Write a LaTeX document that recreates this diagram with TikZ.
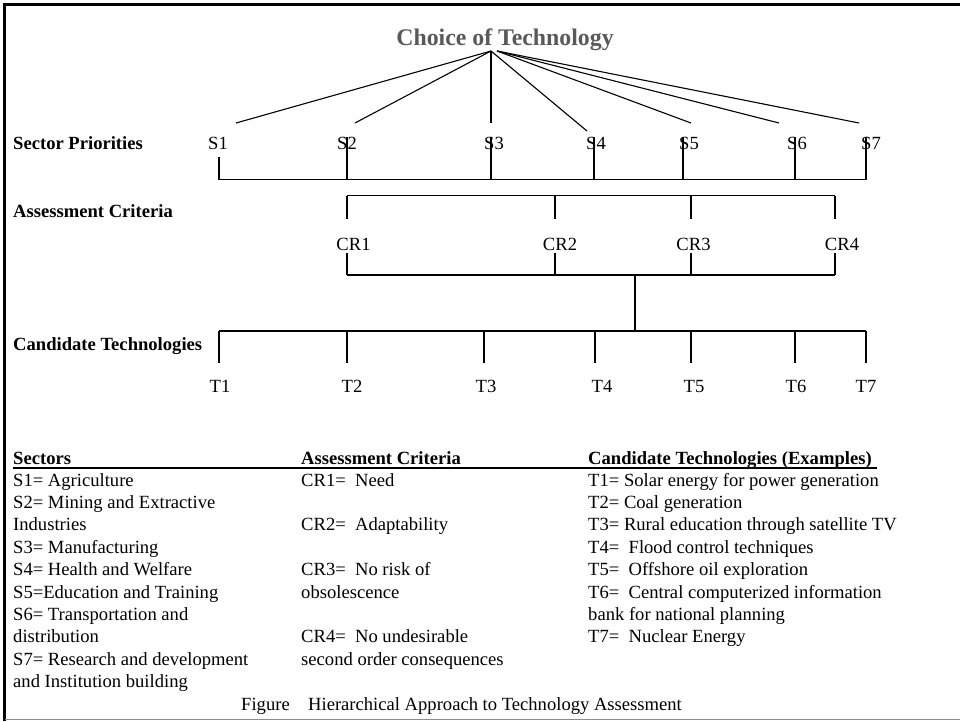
\documentclass[tikz,border=0pt]{standalone}
\usepackage{fontspec}
\setmainfont{Liberation Serif}
\definecolor{titlegray}{HTML}{595959}
\definecolor{framegray}{HTML}{8C8C8C}
\begin{document}
\begin{tikzpicture}[x=1pt,y=-1pt,
  lbl/.style={inner sep=0pt, font=\fontsize{18.6}{22.4}\selectfont, anchor=base},
  rowlbl/.style={inner sep=0pt, font=\fontsize{18.6}{22.4}\selectfont\bfseries, anchor=base west},
  tbl/.style={inner sep=0pt, font=\fontsize{18.6}{22.4}\selectfont, anchor=base west},
  wire/.style={line width=1.1pt, black},
]
\useasboundingbox (0,0) rectangle (960,721);

% frame
\draw[line width=2.7pt] (4.7,721) -- (4.7,4.7) -- (960,4.7);
\draw[line width=1.4pt, framegray] (4.7,719.6) -- (960,719.6);

% title and apex
\node[inner sep=0pt, anchor=base, text=titlegray,
      font=\fontsize{23.8}{28}\selectfont\bfseries] (title) at (505,45) {Choice of Technology};
\coordinate (apexA) at (491,51);
\coordinate (apexB) at (497,51);

% row labels
\node[rowlbl] (rowS) at (13,149) {Sector Priorities};
\node[rowlbl] (rowCR) at (13,217) {Assessment Criteria};
\node[rowlbl] (rowT) at (13,350) {Candidate Technologies};

% sector labels
\node[lbl] (S1) at (218,149) {S1};
\node[lbl] (S2) at (347,149) {S2};
\node[lbl] (S3) at (494,149) {S3};
\node[lbl] (S4) at (596,149) {S4};
\node[lbl] (S5) at (689,149) {S5};
\node[lbl] (S6) at (797,149) {S6};
\node[lbl] (S7) at (871,149) {S7};

% fan from the title to the sectors
\coordinate (f1) at (236,123);
\coordinate (f2) at (355,123);
\coordinate (f3) at (491,123);
\coordinate (f4) at (587,131);
\coordinate (f5) at (691,123);
\coordinate (f6) at (779,123);
\coordinate (f7) at (859,123);
\foreach \k in {1,2,3,4} \draw[wire] (apexA) -- (f\k);
\foreach \k in {5,6,7} \draw[wire] (apexB) -- (f\k);

% sector bracket
\foreach \k/\x/\t in {1/219/157,2/347/137,3/491/137,4/594/137,5/683/137,6/795/137,7/866/137}{
  \coordinate (st\k) at (\x,\t);
  \coordinate (sb\k) at (\x,179.5);
  \draw[wire] (st\k) -- (sb\k);
}
\draw[wire] (sb1) -- (sb7);

% assessment criteria brackets
\foreach \k/\x in {1/347,2/555,3/691,4/835}{
  \coordinate (ca\k) at (\x,195.5);
  \coordinate (cb\k) at (\x,219);
  \draw[wire] (ca\k) -- (cb\k);
  \coordinate (cc\k) at (\x,253);
  \coordinate (cd\k) at (\x,275);
  \draw[wire] (cc\k) -- (cd\k);
}
\draw[wire] (ca1) -- (ca4);
\draw[wire] (cd1) -- (cd4);

% criteria labels
\node[lbl] (CR1) at (353.5,250) {CR1};
\node[lbl] (CR2) at (560,250) {CR2};
\node[lbl] (CR3) at (693.5,250) {CR3};
\node[lbl] (CR4) at (842,250) {CR4};

% trunk down to the technologies
\coordinate (trunkTop) at (635,275);
\coordinate (trunkBot) at (635,331);
\draw[wire] (trunkTop) -- (trunkBot);

% technology bracket
\foreach \k/\x in {1/219,2/347,3/484,4/595,5/691,6/795,7/866}{
  \coordinate (ta\k) at (\x,331);
  \coordinate (tb\k) at (\x,363);
  \draw[wire] (ta\k) -- (tb\k);
}
\draw[wire] (ta1) -- (ta7);

% technology labels
\node[lbl] (T1) at (220,392) {T1};
\node[lbl] (T2) at (352,392) {T2};
\node[lbl] (T3) at (486,392) {T3};
\node[lbl] (T4) at (602,392) {T4};
\node[lbl] (T5) at (694,392) {T5};
\node[lbl] (T6) at (796,392) {T6};
\node[lbl] (T7) at (866,392) {T7};

% legend table
\node[rowlbl] (hS) at (13,464) {Sectors};
\node[rowlbl] (hCR) at (301,464) {Assessment Criteria};
\node[rowlbl] (hT) at (588,464) {Candidate Technologies (Examples)};
\coordinate (ruleL) at (13,468.3);
\coordinate (ruleR) at (877,468.3);
\draw[line width=1.8pt] (ruleL) -- (ruleR);

% column 1: sectors
\node[tbl] (ls1) at (13,486) {S1= Agriculture};
\node[tbl] (ls2) at (13,508.4) {S2= Mining and Extractive};
\node[tbl] (ls2b) at (13,530.8) {Industries};
\node[tbl] (ls3) at (13,553.2) {S3= Manufacturing};
\node[tbl] (ls4) at (13,575.6) {S4= Health and Welfare};
\node[tbl] (ls5) at (13,598) {S5=Education and Training};
\node[tbl] (ls6) at (13,620.4) {S6= Transportation and};
\node[tbl] (ls6b) at (13,642.8) {distribution};
\node[tbl] (ls7) at (13,665.2) {S7= Research and development};
\node[tbl] (ls7b) at (13,687.6) {and Institution building};

% column 2: criteria
\node[tbl] (lc1) at (301,486) {CR1=\ \ Need};
\node[tbl] (lc2) at (301,530.8) {CR2=\ \ Adaptability};
\node[tbl] (lc3) at (301,575.6) {CR3=\ \ No risk of};
\node[tbl] (lc3b) at (301,598) {obsolescence};
\node[tbl] (lc4) at (301,642.8) {CR4=\ \ No undesirable};
\node[tbl] (lc4b) at (301,665.2) {second order consequences};

% column 3: technologies
\node[tbl] (lt1) at (588,486) {T1= Solar energy for power generation};
\node[tbl] (lt2) at (588,508.4) {T2= Coal generation};
\node[tbl] (lt3) at (588,530.8) {T3= Rural education through satellite TV};
\node[tbl] (lt4) at (588,553.2) {T4=\ \ Flood control techniques};
\node[tbl] (lt5) at (588,575.6) {T5=\ \ Offshore oil exploration};
\node[tbl] (lt6) at (588,598) {T6=\ \ Central computerized information};
\node[tbl] (lt6b) at (588,620.4) {bank for national planning};
\node[tbl] (lt7) at (588,642.8) {T7=\ \ Nuclear Energy};

% caption
\node[tbl] (caption) at (241,710) {Figure\hspace{18.4pt}Hierarchical Approach to Technology Assessment};
\end{tikzpicture}
\end{document}
